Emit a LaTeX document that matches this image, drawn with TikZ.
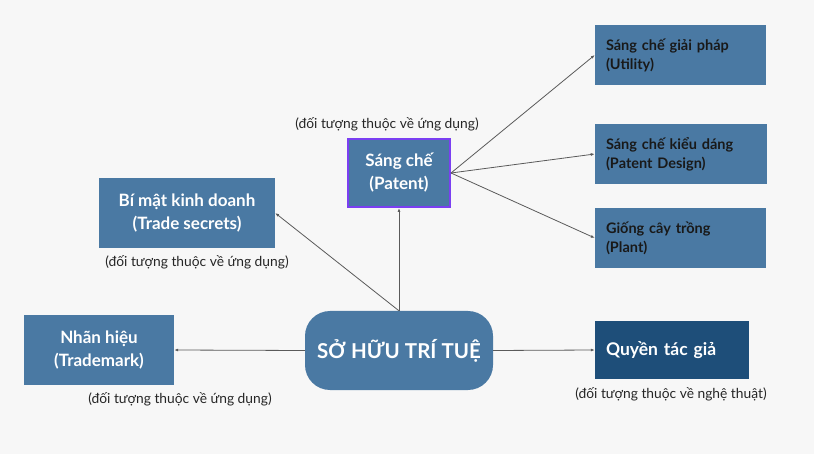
\documentclass[tikz,border=0pt]{standalone}
\usepackage{fontspec}
\setmainfont{Lato}
\usetikzlibrary{arrows.meta}
\definecolor{bgray}{HTML}{F7F7F7}
\definecolor{boxblue}{HTML}{4A79A3}
\definecolor{deepblue}{HTML}{1E4E79}
\definecolor{edgepurple}{HTML}{7B3FF2}
\definecolor{linegray}{HTML}{5A5A5A}
\begin{document}
\begin{tikzpicture}[x=1pt,y=-1pt,
    box/.style={fill=boxblue,text=white,font=\bfseries\fontsize{17}{23}\selectfont,align=center,inner sep=0pt},
    subbox/.style={fill=boxblue,text=black!90,font=\bfseries\fontsize{14.5}{19}\selectfont,align=left,text width=149pt,inner xsep=11pt,inner ysep=0pt,minimum height=60pt},
    note/.style={font=\fontsize{13.8}{15}\selectfont,text=black!85,inner sep=0pt},
    link/.style={->,>={Latex[length=4pt,width=3pt]},draw=linegray,line width=0.8pt}]
    \path [fill=bgray] (0,0) rectangle (814,454);
    % centre
    \node [box,rounded corners=25pt,minimum width=188pt,minimum height=79pt,font=\bfseries\fontsize{20.5}{26}\selectfont] (ip) at (399,350.5) {SỞ HỮU TRÍ TUỆ};
    % left side
    \node [box,minimum width=176pt,minimum height=70pt] (trade) at (187,213) {Bí mật kinh doanh\\(Trade secrets)};
    \node [box,minimum width=150pt,minimum height=70pt] (mark) at (99,350) {Nhãn hiệu\\(Trademark)};
    \node [box,draw=edgepurple,line width=2pt,minimum width=102pt,minimum height=68pt] (patent) at (399,173) {Sáng chế\\(Patent)};
    % right side
    \node [subbox] (utility) at (680.5,55) {Sáng chế giải pháp\\(Utility)};
    \node [subbox,text width=150pt] (design) at (681,154) {Sáng chế kiểu dáng\\(Patent Design)};
    \node [subbox] (plant) at (680.5,238) {Giống cây trồng\\(Plant)};
    \node [subbox,fill=deepblue,text=white,font=\bfseries\fontsize{17.5}{20}\selectfont,text width=132pt,minimum height=58pt] (author) at (672,350) {Quyền tác giả};
    % notes
    \node [note] (patentnote) at (387,124) {(đối tượng thuộc về ứng dụng)};
    \node [note] (tradenote) at (197,262) {(đối tượng thuộc về ứng dụng)};
    \node [note] (marknote) at (180,399) {(đối tượng thuộc về ứng dụng)};
    \node [note] (authornote) at (671,394) {(đối tượng thuộc về nghệ thuật)};
    % links
    \draw [link] (ip.north) -- (patent.south);
    \draw [link] (ip.north) -- (trade.east);
    \draw [link] (ip.west) -- (mark.east);
    \draw [link] (ip.east) -- (author.west);
    \draw [link] (patent.east) -- (utility.west);
    \draw [link] (patent.east) -- (design.west);
    \draw [link] (patent.east) -- (plant.west);
\end{tikzpicture}
\end{document}
